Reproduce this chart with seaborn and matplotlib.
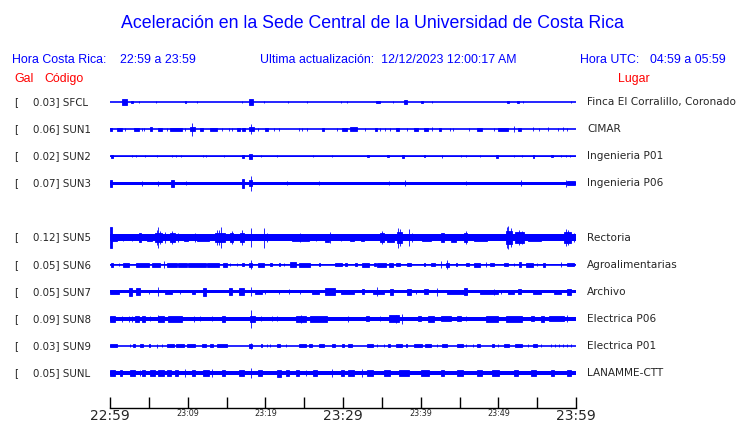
import pandas as pd
import matplotlib.pyplot as plt
import seaborn as sns

# estaciones (SUN4 sin datos -> hueco)
codes = ["SFCL", "SUN1", "SUN2", "SUN3", "SUN4", "SUN5", "SUN6", "SUN7", "SUN8", "SUN9", "SUNL"]
gal_peak = [0.03, 0.06, 0.02, 0.07, None, 0.12, 0.05, 0.05, 0.09, 0.03, 0.05]
places = ["Finca El Corralillo, Coronado", "CIMAR", "Ingenieria P01", "Ingenieria P06", None,
          "Rectoria", "Agroalimentarias", "Archivo", "Electrica P06", "Electrica P01", "LANAMME-CTT"]
# ruido de fondo (semi-amplitud, Gal)
noise = [0.003, 0.003, 0.003, 0.017, None, 0.03, 0.003, 0.014, 0.02, 0.003, 0.022]

# rafagas: (minuto inicio, minuto fin, semi-amplitud Gal)
ev_sfcl = [(1.6, 2.2, .03), (2.7, 2.9, .014), (3.7, 3.7, .012), (5.9, 5.9, .01), (9.6, 9.8, .014),
           (11.2, 11.2, .01), (17.0, 17.0, .012), (17.9, 18.4, .033), (19.8, 19.8, .01), (22.9, 22.9, .01),
           (25.4, 25.4, .01), (29.7, 29.7, .01), (30.5, 30.5, .012), (34.3, 34.8, .014), (36.4, 36.4, .01),
           (37.8, 38.3, .018), (40.1, 40.3, .014), (41.4, 41.4, .012), (51.1, 51.4, .014), (52.4, 52.7, .014),
           (53.2, 53.2, .01), (59.3, 59.3, .01)]
ev_sun1 = [(0.0, 0.3, .014), (0.86, 1.5, .014), (1.9, 1.9, .014), (3.1, 3.7, .014), (4.1, 4.1, .014),
           (4.4, 4.4, .014), (5.2, 5.4, .018), (6.15, 6.7, .014), (7.3, 7.3, .014), (7.7, 9.25, .014),
           (9.7, 9.7, .014), (10.3, 11.0, .02), (10.6, 10.6, .062), (11.6, 12.0, .014), (12.9, 13.8, .014),
           (14.4, 14.4, .014), (15.3, 15.3, .014), (15.7, 15.7, .014), (16.3, 16.8, .014), (17.0, 17.4, .014),
           (17.85, 18.5, .018), (18.1, 18.1, .045), (19.1, 19.1, .014), (20.0, 20.4, .014), (21.1, 21.1, .014),
           (21.7, 21.7, .014), (24.3, 24.3, .014), (24.7, 24.7, .014), (25.4, 25.4, .014), (27.3, 27.5, .014),
           (29.2, 29.2, .014), (29.9, 30.5, .014), (30.9, 31.8, .018), (32.8, 32.8, .014), (34.1, 34.4, .014),
           (34.8, 34.8, .014), (35.4, 35.4, .014), (36.0, 36.0, .014), (36.85, 37.2, .014), (38.2, 38.2, .014),
           (39.2, 39.6, .014), (40.4, 40.9, .014), (41.4, 41.4, .018), (42.4, 42.6, .014), (43.8, 43.8, .014),
           (44.2, 44.2, .014), (46.2, 46.2, .014), (47.3, 47.9, .014), (49.4, 49.4, .014), (49.9, 51.2, .014),
           (52.0, 52.0, .032), (52.5, 52.9, .014), (54.4, 54.4, .018), (55.3, 55.3, .014), (56.4, 56.4, .018),
           (57.7, 57.7, .014), (58.3, 58.3, .018), (58.9, 58.9, .014)]
ev_sun2 = [(0.15, 0.4, .014), (2.8, 2.8, .012), (3.3, 3.3, .012), (4.5, 4.5, .01), (6.1, 6.1, .012),
           (8.0, 8.0, .012), (8.5, 8.5, .01), (9.2, 9.2, .01), (12.0, 12.0, .01), (12.3, 12.3, .012),
           (14.7, 14.7, .01), (17.0, 17.2, .014), (17.9, 18.3, .022), (19.4, 19.4, .012), (21.5, 21.5, .01),
           (26.2, 26.2, .01), (28.6, 28.6, .01), (33.1, 33.3, .012), (35.7, 35.9, .012), (37.6, 37.8, .014),
           (40.4, 40.6, .012), (42.8, 42.8, .014), (45.2, 45.2, .01), (45.8, 45.8, .01), (47.6, 47.6, .01),
           (49.7, 49.9, .014), (52.0, 52.0, .01), (53.1, 53.1, .01), (54.4, 54.6, .014), (56.8, 57.1, .012),
           (58.05, 58.05, .01), (58.7, 58.7, .01), (59.25, 59.25, .012)]
ev_sun3 = [(0.0, 0.3, .036), (4.1, 4.1, .023), (6.15, 6.15, .023), (7.9, 8.2, .032), (9.8, 9.8, .018),
           (17.0, 17.2, .041), (17.9, 18.3, .028), (18.1, 18.1, .073), (22.8, 22.8, .018), (26.9, 26.9, .018),
           (35.9, 35.9, .018), (38.0, 38.0, .027), (45.8, 45.8, .018), (52.9, 52.9, .027), (58.7, 58.7, .032),
           (58.9, 59.9, .02)]
ev_sun5 = [(0.0, 0.2, .1), (0.2, 0.9, .032), (1.7, 1.7, .034), (2.8, 2.8, .036), (3.7, 4.0, .042),
           (4.7, 5.4, .036), (5.8, 6.7, .044), (6.0, 6.0, .07), (6.2, 6.2, .1), (6.5, 6.5, .065),
           (7.1, 7.1, .05), (7.7, 8.4, .042), (8.0, 8.0, .06), (8.8, 8.8, .04), (9.5, 10.0, .034),
           (11.0, 11.0, .04), (11.2, 12.7, .034), (13.5, 14.8, .042), (13.8, 13.8, .07), (14.0, 14.0, .073),
           (14.3, 14.3, .1), (15.5, 15.9, .042), (15.7, 15.7, .06), (16.8, 17.2, .044), (17.0, 17.0, .075),
           (18.1, 18.1, .09), (19.8, 19.8, .095), (20.2, 20.2, .04), (23.4, 25.6, .034), (24.5, 24.5, .04),
           (26.5, 26.5, .034), (27.7, 28.2, .038), (28.3, 28.3, .055), (29.7, 29.7, .034), (30.9, 31.4, .036),
           (32.3, 32.7, .034), (34.7, 35.3, .045), (35.0, 35.0, .064), (35.7, 36.6, .038), (36.9, 37.6, .05),
           (37.1, 37.1, .095), (37.4, 37.4, .08), (38.5, 38.5, .082), (38.9, 38.9, .04), (40.2, 41.3, .036),
           (42.6, 43.0, .044), (43.9, 44.5, .038), (45.6, 46.0, .044), (45.8, 45.8, .058), (46.9, 48.6, .034),
           (51.0, 51.8, .06), (51.1, 51.1, .1), (51.3, 51.3, .11), (51.6, 51.6, .09), (52.2, 53.3, .048),
           (52.6, 52.6, .07), (53.1, 53.1, .064), (53.8, 55.5, .034), (58.5, 59.3, .052), (58.7, 58.7, .082),
           (59.0, 59.0, .07), (59.8, 59.8, .04)]
ev_sun6 = [(0.1, 0.4, .018), (1.1, 1.1, .014), (1.7, 2.4, .018), (3.4, 5.0, .018), (5.4, 6.45, .018),
           (7.0, 7.0, .032), (7.3, 8.6, .018), (8.8, 9.9, .018), (10.1, 12.3, .018), (12.5, 14.0, .018),
           (14.6, 15.0, .018), (15.5, 15.5, .014), (16.3, 16.3, .014), (17.0, 17.2, .014), (17.9, 18.3, .018),
           (18.1, 18.1, .041), (19.1, 19.8, .018), (20.6, 20.9, .014), (21.7, 21.9, .014), (22.4, 22.4, .014),
           (23.2, 23.9, .023), (24.3, 25.8, .018), (26.9, 27.1, .014), (29.0, 29.9, .014), (30.3, 30.5, .014),
           (31.6, 31.8, .014), (32.5, 33.3, .018), (34.0, 34.2, .014), (34.4, 35.5, .018), (35.9, 36.5, .018),
           (36.8, 37.4, .014), (38.3, 38.7, .014), (40.4, 40.6, .014), (41.3, 41.9, .014), (42.6, 42.6, .032),
           (43.2, 43.6, .018), (43.4, 43.4, .041), (44.5, 44.7, .014), (45.8, 46.2, .014), (46.9, 47.7, .018),
           (48.4, 48.4, .027), (48.9, 49.5, .014), (50.7, 51.2, .014), (52.0, 52.0, .014), (52.7, 52.9, .023),
           (53.5, 54.4, .018), (55.0, 55.0, .014), (55.8, 56.0, .018), (58.1, 58.1, .027), (58.9, 59.8, .014)]
ev_sun7 = [(0.0, 1.1, .02), (2.4, 2.8, .036), (3.4, 3.9, .032), (5.0, 5.0, .02), (6.15, 6.15, .045),
           (7.1, 8.0, .02), (9.0, 9.0, .02), (10.5, 11.0, .02), (12.0, 12.3, .036), (15.3, 15.7, .032),
           (16.6, 17.2, .032), (18.1, 18.1, .045), (18.7, 19.6, .02), (20.0, 20.0, .018), (21.7, 21.7, .02),
           (23.0, 23.0, .025), (24.5, 24.5, .02), (26.0, 26.9, .02), (27.7, 29.0, .032), (29.7, 31.4, .02),
           (32.5, 32.7, .025), (33.8, 35.3, .02), (34.4, 34.4, .045), (36.1, 36.5, .027), (38.3, 38.7, .027),
           (39.4, 39.4, .02), (40.4, 40.9, .025), (42.1, 42.1, .036), (43.4, 46.0, .02), (45.6, 46.0, .032),
           (47.7, 49.9, .02), (49.5, 49.5, .027), (50.3, 50.3, .02), (51.2, 52.0, .018), (52.5, 52.9, .025),
           (54.4, 55.5, .02), (57.2, 58.05, .02), (58.9, 59.3, .027)]
ev_sun8 = [(0.0, 0.6, .026), (1.5, 1.5, .026), (2.4, 2.4, .026), (2.8, 2.8, .026), (3.2, 3.7, .026),
           (4.1, 4.5, .026), (5.2, 5.2, .024), (6.15, 6.15, .034), (6.2, 6.9, .026), (7.5, 9.25, .026),
           (10.8, 10.8, .026), (11.6, 11.6, .024), (13.1, 13.1, .024), (14.4, 14.8, .026), (18.0, 18.7, .03),
           (18.1, 18.1, .086), (19.4, 19.4, .024), (20.9, 20.9, .024), (21.5, 21.5, .024), (23.9, 25.2, .028),
           (24.6, 24.6, .038), (25.8, 28.0, .026), (30.7, 30.7, .026), (32.9, 33.3, .024), (34.8, 34.8, .024),
           (35.9, 37.2, .032), (36.8, 36.8, .041), (37.6, 37.6, .045), (39.6, 40.0, .024), (40.9, 41.7, .026),
           (42.6, 43.9, .024), (44.7, 45.2, .024), (45.8, 45.8, .024), (48.4, 49.9, .026), (51.0, 53.1, .026),
           (54.2, 54.6, .024), (55.5, 55.9, .026), (56.5, 58.5, .024), (58.8, 58.8, .034)]
ev_sun9 = [(0.0, 0.9, .014), (2.6, 2.6, .014), (3.0, 3.2, .014), (3.9, 4.3, .014), (5.0, 5.2, .014),
           (6.0, 6.0, .018), (6.7, 6.7, .014), (7.3, 8.2, .014), (8.5, 9.5, .014), (9.9, 11.0, .014),
           (11.8, 12.3, .014), (12.9, 13.3, .014), (13.8, 15.0, .014), (17.9, 18.3, .018), (18.1, 18.1, .032),
           (19.4, 19.6, .014), (20.2, 20.2, .014), (20.6, 20.6, .014), (21.5, 21.9, .014), (22.6, 22.6, .014),
           (24.3, 25.2, .014), (25.6, 26.0, .014), (26.9, 27.5, .014), (28.6, 29.0, .014), (29.9, 30.1, .014),
           (30.7, 31.2, .014), (33.1, 33.8, .014), (34.4, 34.4, .014), (35.3, 35.3, .014), (35.8, 36.1, .014),
           (36.8, 37.6, .014), (38.1, 38.3, .014), (39.1, 40.2, .014), (40.6, 41.3, .014), (42.1, 42.1, .014),
           (42.8, 43.4, .014), (44.7, 45.4, .014), (45.8, 45.8, .014), (46.7, 46.7, .014), (47.3, 47.7, .014),
           (49.2, 49.4, .014), (49.9, 49.9, .014), (50.7, 51.4, .014), (52.2, 53.1, .014), (53.8, 53.8, .014),
           (54.4, 55.0, .014), (55.5, 55.5, .014), (56.8, 56.8, .014), (57.3, 57.3, .014), (57.8, 57.8, .014),
           (58.3, 58.3, .014), (58.8, 58.8, .014), (59.3, 59.3, .014)]
ev_sunl = [(0.0, 0.6, .03), (1.3, 1.5, .027), (2.6, 3.2, .03), (3.9, 3.9, .027), (4.1, 4.5, .027),
           (5.2, 5.8, .027), (6.2, 6.9, .027), (7.3, 7.9, .027), (8.4, 8.8, .027), (9.7, 9.7, .038),
           (10.5, 11.0, .027), (12.0, 12.7, .03), (13.1, 13.1, .034), (14.4, 14.8, .03), (16.6, 17.2, .03),
           (18.1, 18.1, .045), (19.1, 19.6, .027), (21.5, 22.0, .033), (22.6, 23.0, .027), (23.9, 24.3, .03),
           (25.2, 25.2, .027), (26.2, 26.7, .027), (28.6, 28.6, .038), (29.7, 30.1, .027), (30.7, 31.4, .03),
           (32.5, 32.5, .034), (33.1, 33.8, .027), (35.3, 36.1, .03), (37.2, 38.5, .027), (40.0, 41.1, .027),
           (42.6, 43.0, .03), (44.7, 45.4, .03), (47.3, 47.9, .03), (49.2, 50.1, .032), (52.0, 52.5, .032),
           (54.2, 54.8, .03), (56.8, 57.2, .032), (58.9, 59.3, .032)]
events = [ev_sfcl, ev_sun1, ev_sun2, ev_sun3, None, ev_sun5, ev_sun6, ev_sun7, ev_sun8, ev_sun9, ev_sunl]

tick_minutes = list(range(0, 61, 5))
tick_labels = ["22:59", "", "23:09", "", "23:19", "", "23:29", "", "23:39", "", "23:49", "", "23:59"]
big_labels = ["22:59", "23:29", "23:59"]

BLUE = "#0000ff"
W, H = 740, 423
GAL_TO_SLOT = 105 / 27.1   # escala comun de amplitud

sns.set_style("white")
plt.rcParams["font.family"] = ["DejaVu Sans"]

fig = plt.figure(figsize=(W / 100, H / 100), dpi=100)
ax = fig.add_axes([110 / W, 1 - 408 / H, 466 / W, 320 / H])


def ftext(px, py, s, **kw):
    fig.text(px / W, 1 - py / H, s, **kw)


# lineas base
rows = []
for i, c in enumerate(codes):
    if gal_peak[i] is None:
        continue
    rows.append({"minute": 0, "slot": i, "code": c})
    rows.append({"minute": 60, "slot": i, "code": c})
base_df = pd.DataFrame(rows)
sns.lineplot(data=base_df, x="minute", y="slot", units="code", estimator=None,
             color=BLUE, lw=1.2, ax=ax, legend=False)

for i, c in enumerate(codes):
    if gal_peak[i] is None:
        continue
    nz = noise[i] * GAL_TO_SLOT
    ax.fill_between([0, 60], i - nz, i + nz, color=BLUE, lw=0)
    for t0, t1, a in events[i]:
        h = a * GAL_TO_SLOT
        ax.bar((t0 + t1) / 2, 2 * h, width=t1 - t0, bottom=i - h,
               color=BLUE, edgecolor=BLUE, linewidth=0.6)

ax.set_xlim(0, 60)
ax.set_ylim(11.29, -0.517)
ax.set_xlabel("")
ax.set_ylabel("")
ax.set_yticks([])
for s in ["left", "right", "top"]:
    ax.spines[s].set_visible(False)
ax.spines["bottom"].set_color("black")
ax.spines["bottom"].set_linewidth(1)
ax.set_xticks(tick_minutes)
ax.set_xticklabels(tick_labels)
ax.tick_params(axis="x", bottom=True, direction="in", length=8, width=1, color="black", pad=1)
for lab in ax.get_xticklabels():
    lab.set_fontsize(10 if lab.get_text() in big_labels else 5.8)
ax.patch.set_alpha(0)

# textos
ftext(372, 23, "Aceleración en la Sede Central de la Universidad de Costa Rica",
      color=BLUE, fontsize=12.8, family="Liberation Sans", ha="center", va="center")
hdr = dict(color=BLUE, fontsize=8.9, family="Liberation Sans", va="center")
ftext(12, 60, "Hora Costa Rica:", **hdr)
ftext(120, 60, "22:59 a 23:59", **hdr)
ftext(260, 60, "Ultima actualización:  12/12/2023 12:00:17 AM", **hdr)
ftext(580, 60, "Hora UTC:", **hdr)
ftext(650, 60, "04:59 a 05:59", **hdr)
red = dict(color="red", fontsize=8.9, family="Liberation Sans", va="center")
ftext(14, 79, "Gal", **red)
ftext(64, 79, "Código", ha="center", **red)
ftext(650, 79, "Lugar", ha="right", **red)

for i, c in enumerate(codes):
    if gal_peak[i] is None:
        continue
    py = 102 + 27.1 * i
    ftext(14, py, "[", fontsize=7.4, va="center")
    ftext(33, py, f"{gal_peak[i]:.2f}] {c}", fontsize=7.4, va="center", ha="left")
    ftext(587, py, places[i], fontsize=7.6, va="center")

fig.savefig("out.png", dpi=100)
